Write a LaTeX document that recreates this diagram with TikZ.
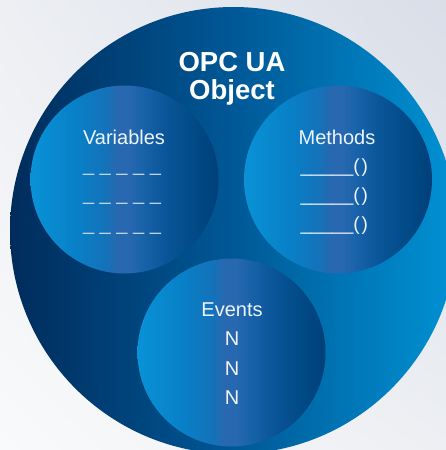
\documentclass[tikz,border=0pt]{standalone}
\usepackage{fontspec}
\setmainfont{Liberation Sans}
\usetikzlibrary{shadings}
\definecolor{bgA}{HTML}{F9FAFB}
\definecolor{bgB}{HTML}{D9DEE8}
\definecolor{bgC}{HTML}{EDEFF3}
\definecolor{bigL}{HTML}{002C5C}
\definecolor{bigM}{HTML}{005896}
\definecolor{bigR}{HTML}{0092D4}
\definecolor{sA}{HTML}{0A92D6}
\definecolor{sB}{HTML}{0880C8}
\definecolor{sC}{HTML}{1472B9}
\definecolor{sD}{HTML}{2868B0}
\definecolor{sE}{HTML}{1862AA}
\definecolor{sF}{HTML}{0A5598}
\definecolor{sG}{HTML}{004883}
\definecolor{sH}{HTML}{003F7A}
\definecolor{txt}{HTML}{EEF4FB}
\definecolor{dsh}{HTML}{C3D6EC}
\pgfdeclarehorizontalshading{bigshade}{100bp}{color(0bp)=(bigL); color(25bp)=(bigL); color(50bp)=(bigM); color(75bp)=(bigR); color(100bp)=(bigR)}
\pgfdeclarehorizontalshading{smallshade}{100bp}{color(0bp)=(sA); color(25bp)=(sA); color(37bp)=(sB); color(45bp)=(sC); color(48bp)=(sD); color(51bp)=(sD); color(55bp)=(sE); color(61bp)=(sF); color(70bp)=(sG); color(75bp)=(sH); color(100bp)=(sH)}
\tikzset{
  small/.style={circle, inner sep=0pt, minimum size=188pt, shading=smallshade},
  head/.style={anchor=base, text=txt, font=\fontsize{20}{20}\selectfont},
  title/.style={anchor=base, text=white, font=\bfseries\fontsize{27.5}{27.5}\selectfont},
  dashrow/.style={anchor=base, text=dsh, font=\fontsize{20}{20}\selectfont},
  methrow/.style={anchor=base west, text=txt, font=\fontsize{19}{19}\selectfont},
}
\begin{document}
\begin{tikzpicture}[x=1pt,y=-1pt]
\useasboundingbox (0,0) rectangle (446,450);
\clip (0,0) rectangle (446,450);
\shade[lower left=bgA, upper right=bgB, upper left=bgC, lower right=bgC] (0,450) rectangle (446,0);
\node[circle, inner sep=0pt, minimum size=447pt, shading=bigshade] (obj) at (233.5,230.5) {};
\node[small] (var) at (124.5,179.5) {};
\node[small] (meth) at (338,179.5) {};
\node[small] (ev) at (231.5,352.5) {};
\node[title] (t1) at (232,71.5) {OPC UA};
\node[title] (t2) at (232,99) {Object};
\node[head] (varh) at (124,144) {Variables};
\node[dashrow] (v1) at (122,171) {\_ \_ \_ \_ \_};
\node[dashrow] (v2) at (122,200) {\_ \_ \_ \_ \_};
\node[dashrow] (v3) at (122,230) {\_ \_ \_ \_ \_};
\node[head] (methh) at (337,144) {Methods};
\node[methrow] (m1) at (297,172) {\_\_\_\_\_(\kern2pt)};
\node[methrow] (m2) at (297,201) {\_\_\_\_\_(\kern2pt)};
\node[methrow] (m3) at (297,230) {\_\_\_\_\_(\kern2pt)};
\node[head] (evh) at (232,316) {Events};
\node[head] (n1) at (232,345.5) {N};
\node[head] (n2) at (232,375) {N};
\node[head] (n3) at (232,404) {N};
\end{tikzpicture}
\end{document}
